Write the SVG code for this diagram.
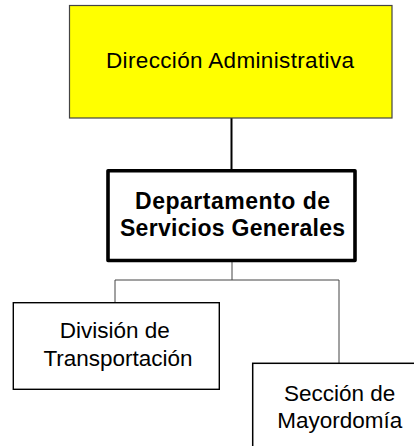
<svg xmlns="http://www.w3.org/2000/svg" width="414" height="446" viewBox="0 0 414 446">
<style>
text{font-family:"Liberation Sans",Arial,sans-serif;font-size:22.5px;fill:#000;text-anchor:middle}
.b{font-weight:bold;font-size:23px}
.box{fill:#fff;stroke:#000}
.c{fill:none;stroke:#444;stroke-width:1}
</style>
<rect width="414" height="446" fill="#fff"/>
<g id="connectors">
<line x1="231.5" y1="118" x2="231.5" y2="170" stroke="#000" stroke-width="2"/>
<polyline class="c" points="232,261 232,280"/>
<polyline class="c" points="115,302 115,280 339,280 339,363"/>
</g>
<g id="n1">
<rect x="69.5" y="5.5" width="322.5" height="112.5" fill="#ffff00" stroke="#444" stroke-width="1.2"/>
<text x="230" y="68.3" textLength="248" lengthAdjust="spacing">Dirección Administrativa</text>
</g>
<g id="n2">
<rect class="box" x="108" y="170.7" width="247" height="89.8" stroke-width="3.6" stroke-linejoin="round"/>
<text class="b" x="232.5" y="209" textLength="195" lengthAdjust="spacing">Departamento de</text>
<text class="b" x="232.5" y="236" textLength="225" lengthAdjust="spacing">Servicios Generales</text>
</g>
<g id="n3">
<rect class="box" x="13.3" y="302.7" width="206" height="86.6" stroke-width="1.4"/>
<text x="114.7" y="337.7">División de</text>
<text x="118" y="366">Transportación</text>
</g>
<g id="n4">
<rect class="box" x="252.7" y="363.3" width="174" height="100" stroke-width="1.5"/>
<text x="339.7" y="400.7">Sección de</text>
<text x="339.7" y="428.3">Mayordomía</text>
</g>
</svg>
